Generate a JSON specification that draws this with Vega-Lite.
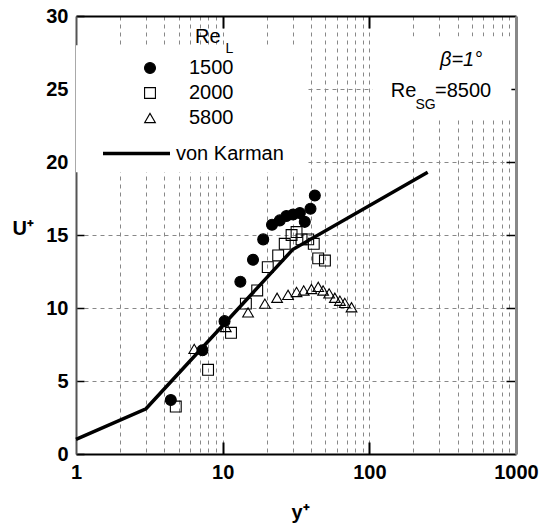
{
  "$schema": "https://vega.github.io/schema/vega-lite/v6.json",
  "width": 440,
  "height": 438,
  "autosize": {"type": "none"},
  "padding": {"left": 76, "top": 16, "right": 26, "bottom": 70},
  "background": "white",
  "config": {"view": {"stroke": null}, "font": "Liberation Sans"},
  "datasets": {
    "points": [
      {"ReL": "1500", "yplus": 4.43, "Uplus": 3.7},
      {"ReL": "1500", "yplus": 7.28, "Uplus": 7.1},
      {"ReL": "1500", "yplus": 10.3, "Uplus": 9.1},
      {"ReL": "1500", "yplus": 13.2, "Uplus": 11.8},
      {"ReL": "1500", "yplus": 16.1, "Uplus": 13.3},
      {"ReL": "1500", "yplus": 18.9, "Uplus": 14.7},
      {"ReL": "1500", "yplus": 21.7, "Uplus": 15.7},
      {"ReL": "1500", "yplus": 24.5, "Uplus": 16.0},
      {"ReL": "1500", "yplus": 27.2, "Uplus": 16.3},
      {"ReL": "1500", "yplus": 30.2, "Uplus": 16.4},
      {"ReL": "1500", "yplus": 33.6, "Uplus": 16.5},
      {"ReL": "1500", "yplus": 36.3, "Uplus": 15.9},
      {"ReL": "1500", "yplus": 39.7, "Uplus": 16.8},
      {"ReL": "1500", "yplus": 42.5, "Uplus": 17.7},
      {"ReL": "2000", "yplus": 4.79, "Uplus": 3.25},
      {"ReL": "2000", "yplus": 7.95, "Uplus": 5.77},
      {"ReL": "2000", "yplus": 11.4, "Uplus": 8.3},
      {"ReL": "2000", "yplus": 14.4, "Uplus": 10.3},
      {"ReL": "2000", "yplus": 17.2, "Uplus": 11.2},
      {"ReL": "2000", "yplus": 20.3, "Uplus": 12.8},
      {"ReL": "2000", "yplus": 23.9, "Uplus": 13.6},
      {"ReL": "2000", "yplus": 26.5, "Uplus": 14.4},
      {"ReL": "2000", "yplus": 29.5, "Uplus": 15.0},
      {"ReL": "2000", "yplus": 31.9, "Uplus": 15.2},
      {"ReL": "2000", "yplus": 34.5, "Uplus": 14.7},
      {"ReL": "2000", "yplus": 38.3, "Uplus": 14.7},
      {"ReL": "2000", "yplus": 41.8, "Uplus": 14.4},
      {"ReL": "2000", "yplus": 44.8, "Uplus": 13.4},
      {"ReL": "2000", "yplus": 49.8, "Uplus": 13.25},
      {"ReL": "5800", "yplus": 6.4, "Uplus": 7.2},
      {"ReL": "5800", "yplus": 10.5, "Uplus": 8.7},
      {"ReL": "5800", "yplus": 14.9, "Uplus": 9.7},
      {"ReL": "5800", "yplus": 19.4, "Uplus": 10.3},
      {"ReL": "5800", "yplus": 23.5, "Uplus": 10.7},
      {"ReL": "5800", "yplus": 27.9, "Uplus": 10.9},
      {"ReL": "5800", "yplus": 31.9, "Uplus": 11.1},
      {"ReL": "5800", "yplus": 35.7, "Uplus": 11.2},
      {"ReL": "5800", "yplus": 40.3, "Uplus": 11.3},
      {"ReL": "5800", "yplus": 44.8, "Uplus": 11.45},
      {"ReL": "5800", "yplus": 48.4, "Uplus": 11.2},
      {"ReL": "5800", "yplus": 53.2, "Uplus": 11.0},
      {"ReL": "5800", "yplus": 58.2, "Uplus": 10.7},
      {"ReL": "5800", "yplus": 63, "Uplus": 10.5},
      {"ReL": "5800", "yplus": 68, "Uplus": 10.35},
      {"ReL": "5800", "yplus": 75.6, "Uplus": 10.05}
    ],
    "vk": [
      {"yplus": 1, "Uplus": 1.0},
      {"yplus": 3, "Uplus": 3.1},
      {"yplus": 30, "Uplus": 14.0},
      {"yplus": 250, "Uplus": 19.3}
    ]
  },
  "resolve": {"axis": {"x": "independent", "y": "independent"}},
  "layer": [
    {
      "data": {"values": [{}]},
      "mark": {"type": "rect", "fill": "white"},
      "encoding": {
        "x": {"datum": 1, "type": "quantitative", "scale": {"type": "log", "domain": [1, 1000], "nice": false}, "axis": null},
        "x2": {"datum": 38},
        "y": {"datum": 19.3, "type": "quantitative", "scale": {"domain": [0, 30], "nice": false}, "axis": null},
        "y2": {"datum": 28}
      }
    },
    {
      "data": {"values": [{}]},
      "mark": {"type": "rect", "fill": "white"},
      "encoding": {
        "x": {"datum": 105, "type": "quantitative", "scale": {"type": "log", "domain": [1, 1000], "nice": false}, "axis": null},
        "x2": {"datum": 930},
        "y": {"datum": 23.0, "type": "quantitative", "scale": {"domain": [0, 30], "nice": false}, "axis": null},
        "y2": {"datum": 28.6}
      }
    },
    {
      "data": {"name": "points"},
      "mark": {"type": "point", "filled": false, "stroke": "black", "strokeWidth": 1.1, "opacity": 1},
      "encoding": {
        "x": {
          "field": "yplus", "type": "quantitative",
          "scale": {"type": "log", "domain": [1, 1000], "nice": false},
          "axis": {
            "orient": "bottom",
            "values": [1, 2, 3, 4, 5, 6, 7, 8, 9, 10, 20, 30, 40, 50, 60, 70, 80, 90, 100, 200, 300, 400, 500, 600, 700, 800, 900, 1000],
            "grid": true, "gridDash": [4, 4], "gridColor": "#888", "gridWidth": 1,
            "gridOpacity": {"condition": {"test": "datum.value == 1 || datum.value == 1000", "value": 0}, "value": 1},
            "tickSize": -12, "tickColor": "black", "tickWidth": 2,
            "tickOpacity": {"condition": {"test": "datum.value == 10 || datum.value == 100", "value": 1}, "value": 0},
            "labelExpr": "(datum.value == 1 || datum.value == 10 || datum.value == 100 || datum.value == 1000) ? format(datum.value, 'd') : ''",
            "labelFont": "Liberation Sans", "labelFontSize": 20, "labelFontWeight": "bold", "labelColor": "black",
            "labelPadding": 20, "labelOverlap": false, "labelFlush": false, "labelBound": false,
            "domainColor": "black", "domainWidth": 2,
            "title": "y⁺", "titleFont": "Liberation Sans", "titleFontSize": 20, "titleFontWeight": "bold", "titleColor": "black",
            "titleBaseline": "alphabetic", "titleY": 64, "titleX": 224,
            "encode": {"labels": {"update": {"fill": {"value": "black"}, "fontWeight": {"value": "bold"}, "opacity": {"value": 1}}}}
          }
        },
        "y": {
          "field": "Uplus", "type": "quantitative",
          "scale": {"domain": [0, 30], "nice": false},
          "axis": {
            "orient": "left",
            "values": [0, 5, 10, 15, 20, 25, 30],
            "grid": true, "gridDash": [4, 4], "gridColor": "#888", "gridWidth": 1,
            "gridOpacity": {"condition": {"test": "datum.value == 0 || datum.value == 30", "value": 0}, "value": 1},
            "tickSize": -8, "tickColor": "black", "tickWidth": 1.5,
            "labelFont": "Liberation Sans", "labelFontSize": 20, "labelFontWeight": "bold", "labelColor": "black",
            "labelPadding": 16, "labelOverlap": false, "labelBound": false, "labelFlush": false,
            "domainColor": "#555", "domainWidth": 2,
            "title": "U⁺", "titleFont": "Liberation Sans", "titleFontSize": 20, "titleFontWeight": "bold", "titleColor": "black",
            "titleAngle": 0, "titleAlign": "left", "titleBaseline": "alphabetic", "titleX": -64, "titleY": 218,
            "encode": {"labels": {"update": {"fill": {"value": "black"}, "fontWeight": {"value": "bold"}, "opacity": {"value": 1}}}}
          }
        },
        "shape": {
          "field": "ReL", "type": "nominal",
          "scale": {"domain": ["1500", "2000", "5800"], "range": ["circle", "square", "triangle-up"]},
          "legend": {"orient": "none", "legendX": 64, "legendY": 42, "title": null, "padding": 0,
            "symbolStrokeColor": "black", "symbolStrokeWidth": 1, "symbolOpacity": 1,
            "labelFont": "Liberation Sans", "labelFontSize": 20, "labelColor": "black", "labelOffset": 29, "rowPadding": 5,
            "encode": {"symbols": {"update": {"stroke": {"value": "black"}, "strokeWidth": {"value": 1.1}, "opacity": {"value": 1}}}}}
        },
        "fill": {
          "field": "ReL", "type": "nominal",
          "scale": {"domain": ["1500", "2000", "5800"], "range": ["black", "transparent", "transparent"]},
          "legend": {"orient": "none", "legendX": 64, "legendY": 42, "title": null, "padding": 0,
            "symbolStrokeColor": "black", "symbolStrokeWidth": 1, "symbolOpacity": 1,
            "labelFont": "Liberation Sans", "labelFontSize": 20, "labelColor": "black", "labelOffset": 29, "rowPadding": 5,
            "encode": {"symbols": {"update": {"stroke": {"value": "black"}, "strokeWidth": {"value": 1.1}, "opacity": {"value": 1}}}}}
        },
        "size": {
          "field": "ReL", "type": "nominal",
          "scale": {"domain": ["1500", "2000", "5800"], "range": [120, 115, 210]},
          "legend": {"orient": "none", "legendX": 64, "legendY": 42, "title": null, "padding": 0,
            "symbolStrokeColor": "black", "symbolStrokeWidth": 1, "symbolOpacity": 1,
            "labelFont": "Liberation Sans", "labelFontSize": 20, "labelColor": "black", "labelOffset": 29, "rowPadding": 5,
            "encode": {"symbols": {"update": {"stroke": {"value": "black"}, "strokeWidth": {"value": 1.1}, "opacity": {"value": 1}}}}}
        }
      }
    },
    {
      "data": {"name": "vk"},
      "mark": {"type": "line", "strokeWidth": 3.5},
      "encoding": {
        "x": {
          "field": "yplus", "type": "quantitative",
          "scale": {"type": "log", "domain": [1, 1000], "nice": false},
          "axis": {"orient": "top", "values": [10, 100], "grid": false, "labels": false, "title": null,
            "tickSize": -12, "tickColor": "black", "tickWidth": 2, "domainColor": "black", "domainWidth": 2}
        },
        "y": {
          "field": "Uplus", "type": "quantitative",
          "scale": {"domain": [0, 30], "nice": false},
          "axis": {"orient": "right", "values": [5, 10, 15, 20, 25], "grid": false, "labels": false, "title": null,
            "tickSize": -10, "tickColor": "black", "tickWidth": 1.5, "domainColor": "#888", "domainWidth": 3}
        },
        "color": {
          "datum": "von Karman", "type": "nominal",
          "scale": {"range": ["black"]},
          "legend": {"orient": "none", "legendX": 25, "legendY": 102, "title": null, "padding": 0,
            "symbolType": "stroke", "symbolSize": 4489, "symbolStrokeWidth": 3.5, "symbolStrokeColor": "black",
            "labelFont": "Liberation Sans", "labelFontSize": 20, "labelColor": "black", "labelOffset": 4}
        }
      }
    },
    {
      "data": {"values": [{}]},
      "mark": {"type": "text", "align": "left", "baseline": "alphabetic", "fontSize": 20, "font": "Liberation Sans", "fill": "black", "text": "Re"},
      "encoding": {
        "x": {"datum": 6.48, "type": "quantitative", "scale": {"type": "log", "domain": [1, 1000], "nice": false}, "axis": null},
        "y": {"datum": 28.13, "type": "quantitative", "scale": {"domain": [0, 30], "nice": false}, "axis": null}
      }
    },
    {
      "data": {"values": [{}]},
      "mark": {"type": "text", "align": "left", "baseline": "alphabetic", "fontSize": 14, "font": "Liberation Sans", "fill": "black", "text": "L"},
      "encoding": {
        "x": {"datum": 10.45, "type": "quantitative", "scale": {"type": "log", "domain": [1, 1000], "nice": false}, "axis": null},
        "y": {"datum": 27.45, "type": "quantitative", "scale": {"domain": [0, 30], "nice": false}, "axis": null}
      }
    },
    {
      "data": {"values": [{}]},
      "mark": {"type": "text", "align": "left", "baseline": "alphabetic", "fontSize": 20, "fontStyle": "italic", "font": "Liberation Sans", "fill": "black", "text": "β=1°"},
      "encoding": {
        "x": {"datum": 303.3, "type": "quantitative", "scale": {"type": "log", "domain": [1, 1000], "nice": false}, "axis": null},
        "y": {"datum": 26.58, "type": "quantitative", "scale": {"domain": [0, 30], "nice": false}, "axis": null}
      }
    },
    {
      "data": {"values": [{}]},
      "mark": {"type": "text", "align": "left", "baseline": "alphabetic", "fontSize": 20, "font": "Liberation Sans", "fill": "black", "text": "Re"},
      "encoding": {
        "x": {"datum": 139.9, "type": "quantitative", "scale": {"type": "log", "domain": [1, 1000], "nice": false}, "axis": null},
        "y": {"datum": 24.47, "type": "quantitative", "scale": {"domain": [0, 30], "nice": false}, "axis": null}
      }
    },
    {
      "data": {"values": [{}]},
      "mark": {"type": "text", "align": "left", "baseline": "alphabetic", "fontSize": 14, "font": "Liberation Sans", "fill": "black", "text": "SG"},
      "encoding": {
        "x": {"datum": 206.5, "type": "quantitative", "scale": {"type": "log", "domain": [1, 1000], "nice": false}, "axis": null},
        "y": {"datum": 23.66, "type": "quantitative", "scale": {"domain": [0, 30], "nice": false}, "axis": null}
      }
    },
    {
      "data": {"values": [{}]},
      "mark": {"type": "text", "align": "left", "baseline": "alphabetic", "fontSize": 20, "font": "Liberation Sans", "fill": "black", "text": "=8500"},
      "encoding": {
        "x": {"datum": 280.4, "type": "quantitative", "scale": {"type": "log", "domain": [1, 1000], "nice": false}, "axis": null},
        "y": {"datum": 24.47, "type": "quantitative", "scale": {"domain": [0, 30], "nice": false}, "axis": null}
      }
    }
  ]
}
